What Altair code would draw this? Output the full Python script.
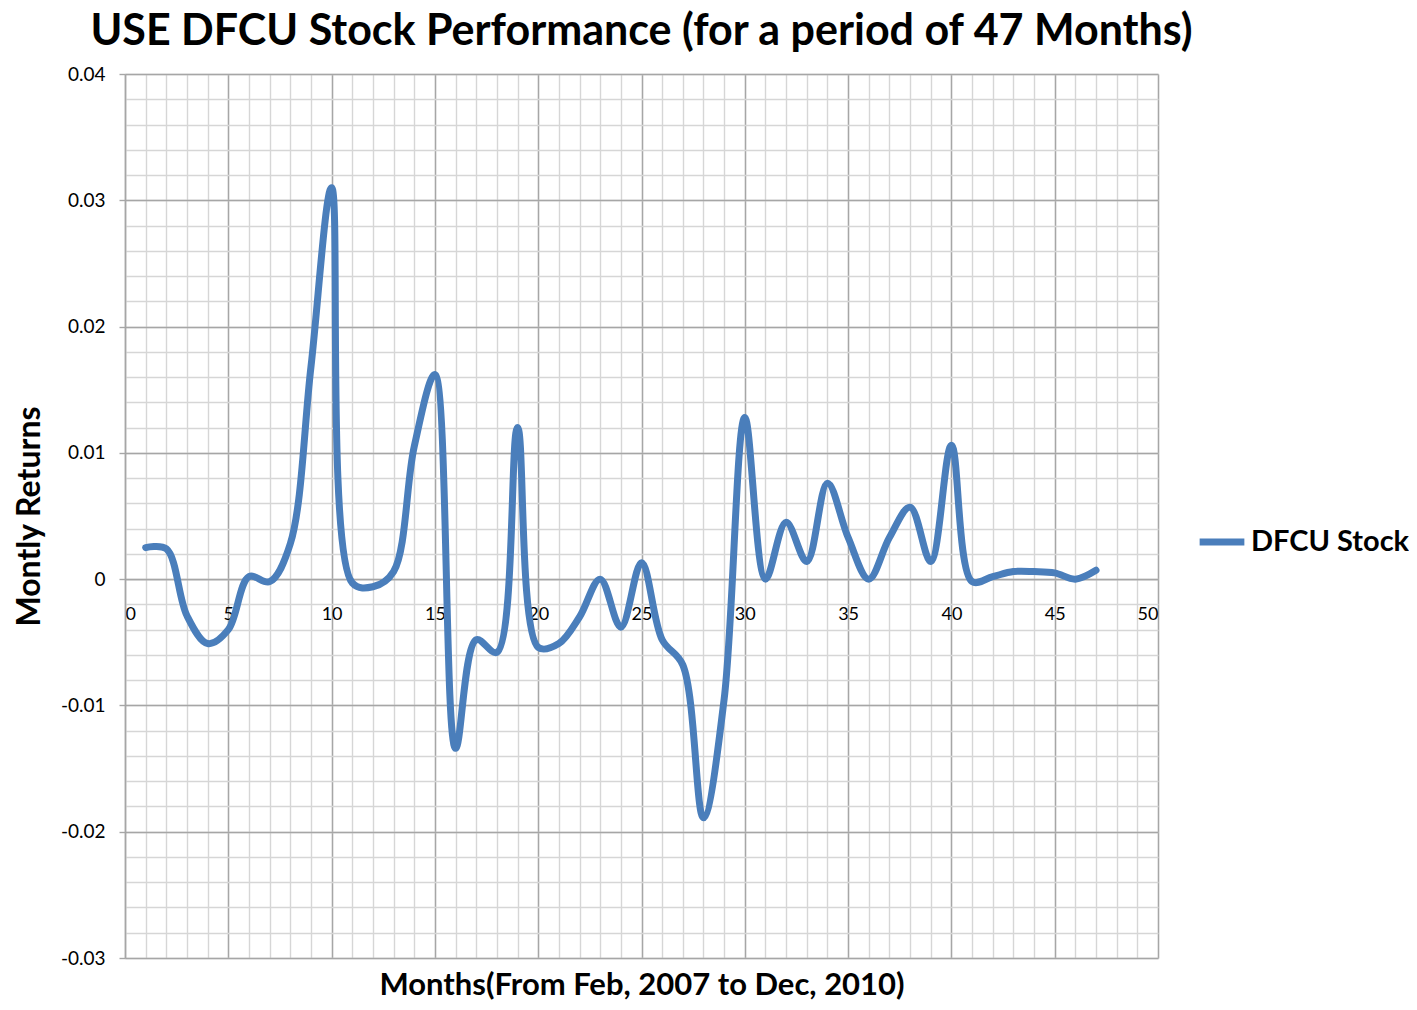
import altair as alt
import pandas as pd

months = list(range(1, 48))
returns = [
    0.0025, 0.0024, -0.0029, -0.0051, -0.0040, 0.0002, -0.0002, 0.0028, 0.0168, 0.0310,
    -0.0003, -0.0006, 0.0006, 0.0105, 0.0162, -0.0134, -0.0048, -0.0058, 0.0120, -0.0054,
    -0.0051, -0.0030, 0.0000, -0.0038, 0.0013, -0.0048, -0.0068, -0.0189, -0.0095, 0.0128,
    0.0000, 0.0045, 0.0014, 0.0076, 0.0033, 0.0000, 0.0033, 0.0057, 0.0014, 0.0106,
    -0.0002, 0.0002, 0.0006, 0.0006, 0.0005, 0.0000, 0.0007,
]
series_name = "DFCU Stock"
title_text = "USE DFCU Stock Performance (for a period of 47 Months)"
x_title = "Months(From Feb, 2007 to Dec, 2010)"
y_title = "Montly Returns"

x_major = [0, 5, 10, 15, 20, 25, 30, 35, 40, 45, 50]
x_minor = list(range(0, 51))
y_major = [-0.03, -0.02, -0.01, 0.0, 0.01, 0.02, 0.03, 0.04]
y_minor = [round(-0.03 + 0.002 * i, 3) for i in range(36)]

df = pd.DataFrame({"Month": months, "Return": returns, "Series": [series_name] * len(months)})

W, H = 1033, 884
YMIN, YMAX = -0.03, 0.04
zero_from_bottom = H * (0 - YMIN) / (YMAX - YMIN)

FONT = "Lato"
MAJOR = "#a6a6a6"
MINOR = "#d6d6d6"
BLUE = "#4a7ebb"

x_scale = alt.Scale(domain=[0, 50], nice=False, zero=False)
y_scale = alt.Scale(domain=[YMIN, YMAX], nice=False, zero=False)

base = alt.Chart(df)

minor = base.mark_line(opacity=0).encode(
    x=alt.X("Month:Q", scale=x_scale,
            axis=alt.Axis(values=x_minor, grid=True, gridColor=MINOR, gridWidth=1.4,
                          labels=False, ticks=False, domain=False, title=None, orient="top")),
    y=alt.Y("Return:Q", scale=y_scale,
            axis=alt.Axis(values=y_minor, grid=True, gridColor=MINOR, gridWidth=1.4,
                          labels=False, ticks=False, domain=False, title=None, orient="right")),
)

main = base.mark_line(interpolate="catmull-rom", strokeWidth=7, strokeCap="round",
                      strokeJoin="round").encode(
    x=alt.X("Month:Q", scale=x_scale,
            axis=alt.Axis(values=x_major, grid=True, gridColor=MAJOR, gridWidth=1.4,
                          orient="bottom", offset=-zero_from_bottom,
                          domain=True, domainColor=MAJOR, domainWidth=1.4,
                          ticks=False, labelPadding=26, labelFontSize=18, labelFont=FONT,
                          labelColor="#000000", format="d",
                          title=x_title, titleFont=FONT, titleFontSize=31,
                          titleFontWeight="bold", titleColor="#000000",
                          titleBaseline="middle", titleY=zero_from_bottom + 27)),
    y=alt.Y("Return:Q", scale=y_scale,
            axis=alt.Axis(values=y_major, grid=True, gridColor=MAJOR, gridWidth=1.4,
                          orient="left", domain=True, domainColor=MAJOR, domainWidth=1.4,
                          ticks=True, tickColor=MAJOR, tickSize=6, tickWidth=1.4,
                          labelPadding=14, labelFontSize=19, labelFont=FONT, labelColor="#000000",
                          labelExpr="datum.value == 0 ? '0' : (datum.value < 0 ? '-' : '') + format(abs(datum.value), '.2f')",
                          title=y_title, titleFont=FONT, titleFontSize=32,
                          titleFontWeight="bold", titleColor="#000000", titlePadding=14)),
    color=alt.Color("Series:N", scale=alt.Scale(range=[BLUE]),
                    legend=alt.Legend(title=None, orient="none", legendX=1071, legendY=442,
                                      padding=0, symbolType="stroke", symbolStrokeWidth=7,
                                      symbolSize=2000, labelFont=FONT, labelFontSize=29,
                                      labelFontWeight="bold", labelColor="#000000",
                                      labelLimit=400, labelOffset=3)),
)

chart = alt.layer(minor, main).resolve_axis(x="independent", y="independent").properties(
    width=W, height=H,
    autosize=alt.AutoSizeParams(type="none"),
    padding={"left": 117, "top": 66, "right": 251, "bottom": 44},
    title=alt.TitleParams(title_text, font=FONT, fontSize=43, fontWeight="bold",
                          color="#000000", anchor="middle", frame="group", offset=11),
).configure_view(stroke=None)

chart.save("out.html", embed_options={"renderer": "svg", "actions": False})
